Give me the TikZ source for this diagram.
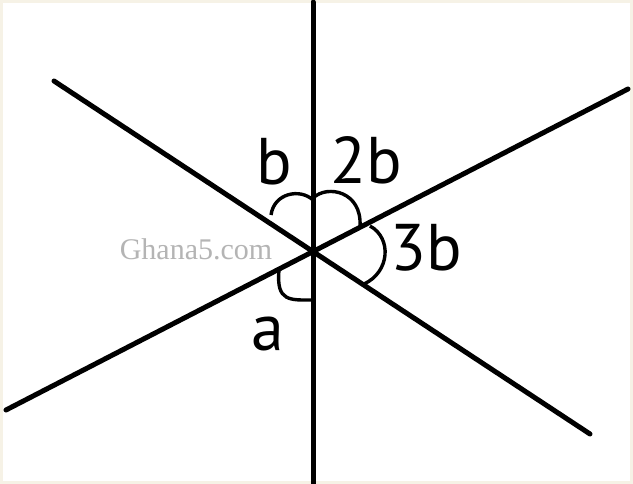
\documentclass[tikz,border=0pt]{standalone}
\usepackage{fontspec}
\setmainfont{PT Sans}
\newfontfamily\markfont{Liberation Serif}
\definecolor{frame}{RGB}{246,242,230}
\definecolor{mark}{RGB}{180,180,180}
\tikzset{
  bigline/.style={line width=5pt, line cap=round},
  anglearc/.style={line width=3.4pt},
  anglelabel/.style={font=\fontsize{66}{66}\selectfont, anchor=base, inner sep=0pt}
}
\begin{document}
\begin{tikzpicture}[x=1pt,y=-1pt]
	 \fill[frame] (0,0) rectangle (633,484);
	 \fill[white] (3,3) rectangle (630,481);
	 \useasboundingbox (0,0) rectangle (633,484);

	 \coordinate (top) at (313,2);
	 \coordinate (bottom) at (313,484);
	 \coordinate (upleft) at (54,81);
	 \coordinate (downright) at (590,434);
	 \coordinate (downleft) at (6,410);
	 \coordinate (upright) at (628,89);

	 \node[text=mark, font=\markfont\fontsize{30}{30}\selectfont, anchor=base, inner sep=0pt] (site) at (196,260) {Ghana5.com};

	 \draw[bigline] (top) -- (bottom);
	 \draw[bigline] (upleft) -- (downright);
	 \draw[bigline] (downleft) -- (upright);

	 \draw[anglearc] (271,215) .. controls (274,193) and (300,188) .. (313,200);
	 \draw[anglearc] (313,198) .. controls (328,184) and (362,192) .. (360,226);
	 \draw[anglearc] (370,226) .. controls (392,238) and (390,272) .. (364,284);
	 \draw[anglearc] (279,270) .. controls (276,302) and (290,300) .. (313,300);

	 \node[anglelabel] (labb) at (274,185) {b};
	 \node[anglelabel] (lab2b) at (366,184) {2b};
	 \node[anglelabel] (lab3b) at (426,271) {3b};
	 \node[anglelabel] (laba) at (268,351) {a};
\end{tikzpicture}
\end{document}
